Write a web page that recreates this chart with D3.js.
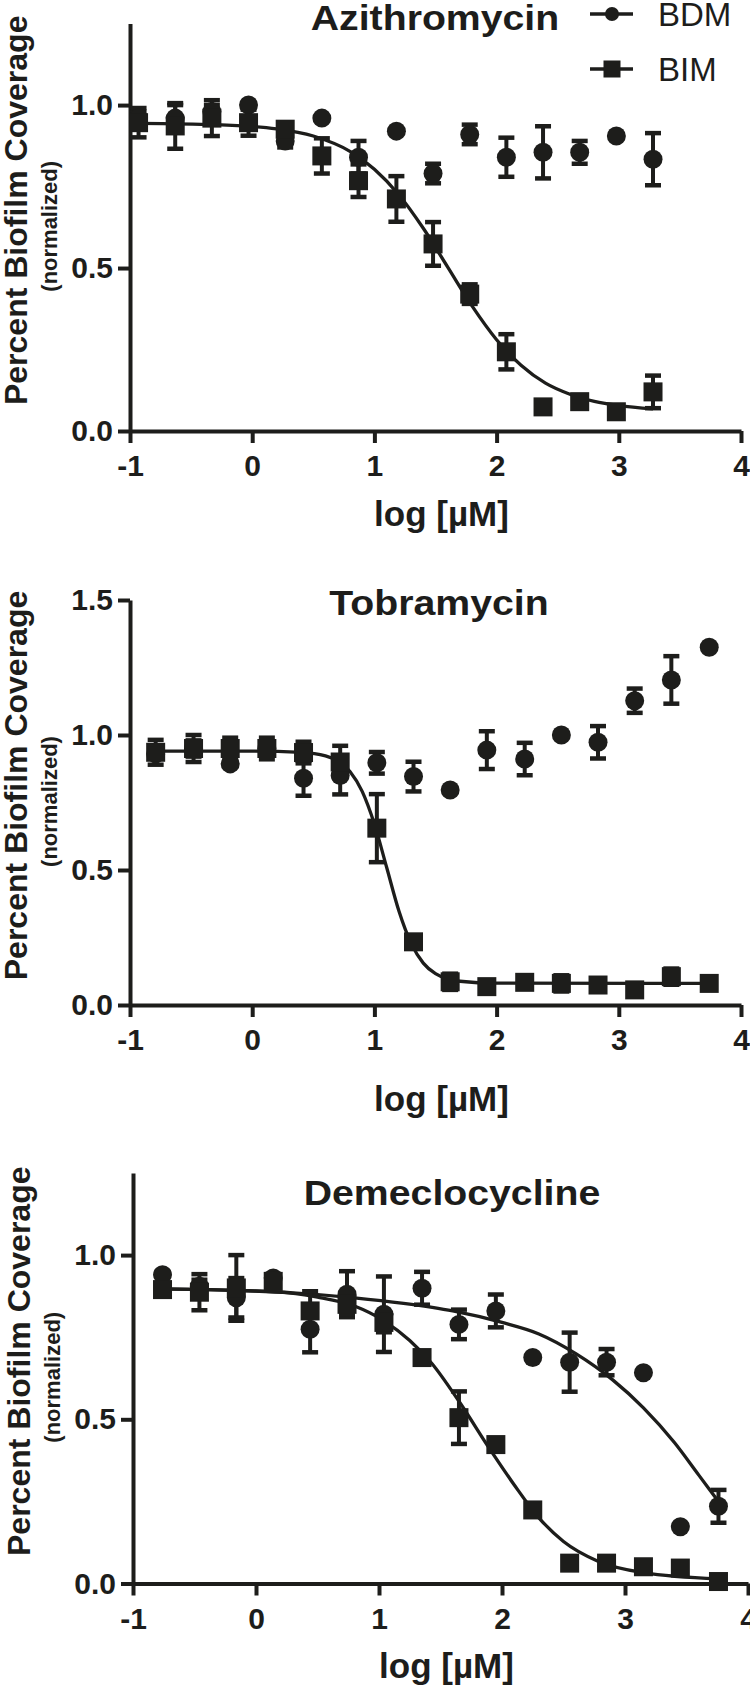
<!DOCTYPE html>
<html><head><meta charset="utf-8">
<script src="https://cdn.jsdelivr.net/npm/d3@7"></script>
<style>
body{margin:0;background:#fff}
svg{display:block}
text{font-family:"Liberation Sans",Arial,Helvetica,sans-serif;fill:#1d1d1b}
</style>
</head><body>
<svg id="c" width="750" height="1685"></svg>
<script>
// ---------- data ----------
const titles = ["Azithromycin", "Tobramycin", "Demeclocycline"];
const seriesNames = ["BDM", "BIM"];
const xTickValues = [-1, 0, 1, 2, 3, 4];
const yTickValues = [[0, 0.5, 1.0], [0, 0.5, 1.0, 1.5], [0, 0.5, 1.0]];
const yMax = [1.25, 1.5, 1.25];
const xLabel = "log [µM]";
const yLabel = "Percent Biofilm Coverage";
const yLabelSub = "(normalized)";

// Azithromycin
const aziX      = [-0.93, -0.63, -0.33, -0.03, 0.27, 0.57, 0.87, 1.18, 1.48, 1.78, 2.08, 2.38, 2.68, 2.98, 3.28];
const aziBDM    = [0.96, 0.96, 0.98, 1.00, 0.89, 0.96, 0.84, 0.92, 0.79, 0.91, 0.84, 0.855, 0.855, 0.905, 0.834];
const aziBDMErr = [0.02, 0.04, 0.02, 0, 0.02, 0, 0.05, 0, 0.03, 0.03, 0.06, 0.08, 0.035, 0, 0.08];
const aziBIM    = [0.946, 0.936, 0.96, 0.946, 0.926, 0.844, 0.768, 0.712, 0.574, 0.42, 0.243, 0.074, 0.09, 0.059, 0.12];
const aziBIMErr = [0.045, 0.07, 0.055, 0.04, 0.02, 0.054, 0.05, 0.07, 0.067, 0.03, 0.054, 0.01, 0.01, 0.01, 0.05];
const aziFitX   = [-0.93, -0.3, 0.2, 0.5, 0.8, 1.0, 1.2, 1.4, 1.6, 1.8, 2.0, 2.2, 2.4, 2.6, 2.8, 3.0, 3.28];
const aziFitBIM = [0.944, 0.940, 0.927, 0.905, 0.858, 0.803, 0.725, 0.622, 0.503, 0.383, 0.280, 0.202, 0.147, 0.113, 0.091, 0.078, 0.068];

// Tobramycin
const tobX      = [-0.79, -0.48, -0.18, 0.12, 0.42, 0.72, 1.02, 1.32, 1.62, 1.92, 2.23, 2.53, 2.83, 3.13, 3.43, 3.74];
const tobBDM    = [0.93, 0.95, 0.893, 0.95, 0.84, 0.85, 0.897, 0.846, 0.796, 0.944, 0.911, 1.0, 0.973, 1.127, 1.204, 1.325];
const tobBDMErr = [0, 0.03, 0, 0.02, 0.065, 0.07, 0.04, 0.055, 0, 0.07, 0.06, 0, 0.06, 0.045, 0.088, 0];
const tobBIM    = [0.936, 0.95, 0.95, 0.95, 0.935, 0.90, 0.655, 0.234, 0.086, 0.068, 0.084, 0.08, 0.074, 0.056, 0.105, 0.08];
const tobBIMErr = [0.046, 0.05, 0.04, 0.04, 0.04, 0.06, 0.126, 0.01, 0.03, 0.01, 0.01, 0.03, 0.01, 0.01, 0.03, 0.01];
const tobFitX   = [-0.79, 0.0, 0.4, 0.6, 0.7, 0.8, 0.9, 1.0, 1.1, 1.2, 1.3, 1.4, 1.5, 1.7, 2.0, 3.74];
const tobFitBIM = [0.94, 0.94, 0.936, 0.923, 0.904, 0.865, 0.791, 0.670, 0.510, 0.349, 0.229, 0.155, 0.116, 0.088, 0.081, 0.08];

// Demeclocycline
const demX      = [-0.76, -0.46, -0.16, 0.14, 0.44, 0.74, 1.04, 1.35, 1.65, 1.95, 2.25, 2.55, 2.85, 3.15, 3.45, 3.76];
const demBDM    = [0.94, 0.905, 0.87, 0.93, 0.774, 0.881, 0.82, 0.899, 0.789, 0.83, 0.688, 0.674, 0.674, 0.642, 0.173, 0.235];
const demBDMErr = [0, 0.02, 0.06, 0, 0.07, 0.07, 0.115, 0.05, 0.045, 0.05, 0, 0.09, 0.04, 0, 0, 0.05];
const demBIM    = [0.895, 0.887, 0.90, 0.92, 0.83, 0.85, 0.795, 0.688, 0.505, 0.423, 0.224, 0.062, 0.062, 0.051, 0.047, 0.006];
const demBIMErr = [0.01, 0.055, 0.1, 0.02, 0.06, 0.03, 0.03, 0, 0.08, 0, 0, 0, 0, 0, 0, 0];
const demFitBIMX = [-0.76, 0.17, 0.5, 0.8, 1.04, 1.25, 1.43, 1.65, 1.9, 2.1, 2.3, 2.5, 2.78, 3.15, 3.76];
const demFitBIM  = [0.897, 0.888, 0.872, 0.845, 0.80, 0.74, 0.67, 0.555, 0.41, 0.30, 0.20, 0.128, 0.068, 0.033, 0.014];
const demFitBDMX = [-0.76, -0.2, 0.3, 0.8, 1.2, 1.6, 2.0, 2.3, 2.6, 2.9, 3.15, 3.4, 3.6, 3.76];
const demFitBDM  = [0.897, 0.893, 0.885, 0.87, 0.853, 0.83, 0.795, 0.76, 0.70, 0.62, 0.535, 0.43, 0.33, 0.25];

// ---------- assembly ----------
const panelsData = [
  {x: aziX, bdm: aziBDM, bdmErr: aziBDMErr, bim: aziBIM, bimErr: aziBIMErr,
   fits: [[aziFitX, aziFitBIM]]},
  {x: tobX, bdm: tobBDM, bdmErr: tobBDMErr, bim: tobBIM, bimErr: tobBIMErr,
   fits: [[tobFitX, tobFitBIM]]},
  {x: demX, bdm: demBDM, bdmErr: demBDMErr, bim: demBIM, bimErr: demBIMErr,
   fits: [[demFitBDMX, demFitBDM], [demFitBIMX, demFitBIM]]}
];

// layout (pixels)
const layout = [
  {left:130, right:741, top:23.6, bottom:431,    titleX:435, titleY:30,   xlabY:526,  legend:true},
  {left:130, right:741, top:600,  bottom:1005,   titleX:439, titleY:615,  xlabY:1111, legend:false},
  {left:133, right:748, top:1173, bottom:1583.5, titleX:452, titleY:1205, xlabY:1678, legend:false}
];

const ink = "#1d1d1b";
const svg = d3.select("#c");
const MARK = 19;       // marker size
const CAP = 16;        // error cap width

function stretchText(g, x, y, str, size, weight, sx, anchor) {
  return g.append("text")
    .attr("transform", `translate(${x},${y}) scale(${sx},1)`)
    .attr("text-anchor", anchor)
    .style("font-size", size + "px")
    .style("font-weight", weight)
    .text(str);
}

panelsData.forEach((pd, i) => {
  const L = layout[i];
  const g = svg.append("g");
  const x = d3.scaleLinear().domain([-1, 4]).range([L.left, L.right]);
  const y = d3.scaleLinear().domain([0, yMax[i]]).range([L.bottom, L.top]);

  // axes
  const xa = g.append("g").attr("transform", `translate(0,${L.bottom})`)
    .call(d3.axisBottom(x).tickValues(xTickValues).tickSize(12).tickSizeOuter(0).tickPadding(12)
      .tickFormat(d3.format("d")));
  const ya = g.append("g").attr("transform", `translate(${L.left},0)`)
    .call(d3.axisLeft(y).tickValues(yTickValues[i]).tickSize(12).tickSizeOuter(0).tickPadding(5)
      .tickFormat(d3.format(".1f")));
  [xa, ya].forEach(a => {
    a.selectAll("path.domain").attr("stroke", ink).attr("stroke-width", 4);
    a.selectAll(".tick line").attr("stroke", ink).attr("stroke-width", 4);
    a.selectAll(".tick text").style("font-size", "30px").style("font-weight", "bold")
      .attr("fill", ink).style("font-family", '"Liberation Sans",Arial,sans-serif');
  });
  xa.selectAll(".tick text").text(d => d < 0 ? "-" + Math.abs(d) : d);

  // fit curves
  const line = d3.line().x(d => x(d[0])).y(d => y(d[1])).curve(d3.curveMonotoneX);
  pd.fits.forEach(([fx, fy]) => {
    g.append("path").datum(fx.map((v, k) => [v, fy[k]]))
      .attr("d", line).attr("fill", "none").attr("stroke", ink).attr("stroke-width", 3.3);
  });

  // error bars
  const drawErr = (vals, errs) => {
    pd.x.forEach((xv, k) => {
      const e = errs[k];
      if (!e) return;
      const cx = x(xv), y1 = y(vals[k] + e), y2 = y(vals[k] - e);
      g.append("line").attr("x1", cx).attr("x2", cx).attr("y1", y1).attr("y2", y2)
        .attr("stroke", ink).attr("stroke-width", 4);
      [y1, y2].forEach(yy => g.append("line").attr("x1", cx - CAP/2).attr("x2", cx + CAP/2)
        .attr("y1", yy).attr("y2", yy).attr("stroke", ink).attr("stroke-width", 4.5));
    });
  };
  drawErr(pd.bdm, pd.bdmErr);
  drawErr(pd.bim, pd.bimErr);

  // markers
  g.selectAll(null).data(pd.x.map((v, k) => [v, pd.bdm[k]])).enter().append("circle")
    .attr("cx", d => x(d[0])).attr("cy", d => y(d[1])).attr("r", MARK/2).attr("fill", ink);
  g.selectAll(null).data(pd.x.map((v, k) => [v, pd.bim[k]])).enter().append("rect")
    .attr("x", d => x(d[0]) - MARK/2).attr("y", d => y(d[1]) - MARK/2)
    .attr("width", MARK).attr("height", MARK).attr("fill", ink);

  // title
  stretchText(g, L.titleX, L.titleY, titles[i], 36, "bold", 1.09, "middle");

  // axis labels
  g.append("text").attr("x", (L.left + L.right) / 2 + 6).attr("y", L.xlabY)
    .attr("text-anchor", "middle").style("font-size", "35px").style("font-weight", "bold").text(xLabel);
  const midY = (y.range()[0] + y.range()[1]) / 2;
  g.append("text").attr("transform", `translate(${L.left - 103},${midY - 17}) rotate(-90)`)
    .attr("text-anchor", "middle").style("font-size", "32px").style("font-weight", "bold").text(yLabel);
  g.append("text").attr("transform", `translate(${L.left - 73},${midY - 1}) rotate(-90)`)
    .attr("text-anchor", "middle").style("font-size", "22px").style("font-weight", "bold").text(yLabelSub);

  // legend
  if (L.legend) {
    const lg = g.append("g");
    const rows = [{name: seriesNames[0], y: 14, shape: "circle"}, {name: seriesNames[1], y: 69, shape: "square"}];
    rows.forEach(r => {
      lg.append("line").attr("x1", 590).attr("x2", 633).attr("y1", r.y).attr("y2", r.y)
        .attr("stroke", ink).attr("stroke-width", 3.3);
      if (r.shape === "circle") lg.append("circle").attr("cx", 612).attr("cy", r.y).attr("r", 7).attr("fill", ink);
      else lg.append("rect").attr("x", 612 - 8.5).attr("y", r.y - 8.5).attr("width", 17).attr("height", 17).attr("fill", ink);
      lg.append("text").attr("x", 658).attr("y", r.y + 12).style("font-size", "33px").text(r.name);
    });
  }
});
</script>
</body></html>
